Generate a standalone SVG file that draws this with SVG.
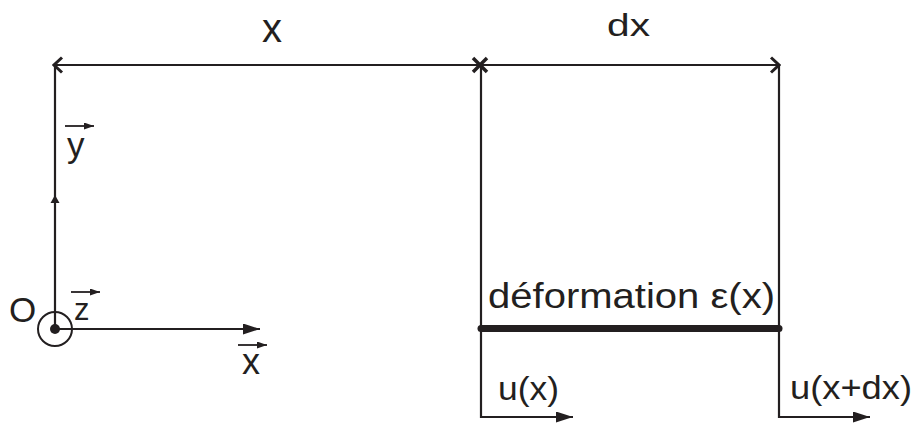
<svg xmlns="http://www.w3.org/2000/svg" width="916" height="428" viewBox="0 0 916 428">
<style>
.ln{stroke:#231f20;stroke-width:2.2;fill:none}
.t{font-family:"Liberation Sans","Open Sans",sans-serif;fill:#231f20}
.v{stroke:#231f20;stroke-width:1.8;fill:none}
</style>
<defs>
<marker id="fa" viewBox="0 0 17 11" refX="17" refY="5.5" markerWidth="17" markerHeight="11" markerUnits="userSpaceOnUse" orient="auto"><path d="M0,0 L17,5.5 L0,11 Z" fill="#231f20"/></marker>
<marker id="sa" viewBox="0 0 10 7" refX="10" refY="3.5" markerWidth="10" markerHeight="7" markerUnits="userSpaceOnUse" orient="auto"><path d="M0,0 L10,3.5 L0,7 Z" fill="#231f20"/></marker>
<marker id="ch" viewBox="0 0 12 18" refX="11" refY="9" markerWidth="12" markerHeight="18" markerUnits="userSpaceOnUse" orient="auto"><path d="M2,1.5 L10,9 L2,16.5" fill="none" stroke="#231f20" stroke-width="3"/></marker>
</defs>
<g id="connectors">
<line class="ln" x1="480" y1="65" x2="53" y2="65" marker-end="url(#ch)"/>
<line class="ln" x1="480" y1="65" x2="780" y2="65" marker-end="url(#ch)"/>
<path d="M473,58 L487,72 M487,58 L473,72" stroke="#231f20" stroke-width="3.5" fill="none"/>
<line class="ln" x1="55" y1="329" x2="55" y2="65"/>
<path d="M55,195 L50.5,203 L59.5,203 Z" fill="#231f20"/>
<line class="ln" x1="55" y1="329" x2="260" y2="329" marker-end="url(#fa)"/>
<line class="ln" x1="481" y1="65" x2="481" y2="418"/>
<line class="ln" x1="779" y1="65" x2="779" y2="418"/>
<line class="ln" x1="480" y1="417" x2="573" y2="417" marker-end="url(#fa)"/>
<line class="ln" x1="778" y1="417" x2="870" y2="417" marker-end="url(#fa)"/>
</g>
<g id="origin">
<circle cx="55" cy="329" r="17" fill="none" stroke="#231f20" stroke-width="2"/>
<circle cx="55" cy="329" r="5" fill="#231f20"/>
<text class="t" x="9" y="322" font-size="35">O</text>
<line class="v" x1="71" y1="292" x2="100" y2="292" marker-end="url(#sa)"/>
<text class="t" x="74" y="320" font-size="31">z</text>
</g>
<g id="axis-y">
<line class="v" x1="65" y1="126" x2="94" y2="126" marker-end="url(#sa)"/>
<text class="t" x="67" y="157" font-size="35">y</text>
</g>
<g id="axis-x">
<line class="v" x1="238" y1="345" x2="267" y2="345" marker-end="url(#sa)"/>
<text class="t" x="242" y="374" font-size="36">x</text>
</g>
<g id="dim-x"><text class="t" x="262" y="42" font-size="40">x</text></g>
<g id="dim-dx"><text class="t" x="607" y="36" font-size="31" textLength="43" lengthAdjust="spacingAndGlyphs">dx</text></g>
<g id="segment">
<line x1="481" y1="328.5" x2="779" y2="328.5" stroke="#231f20" stroke-width="7" stroke-linecap="round"/>
<text class="t" x="488" y="308" font-size="35" textLength="287" lengthAdjust="spacingAndGlyphs">déformation ε(x)</text>
</g>
<g id="u-x"><text class="t" x="498" y="400" font-size="33" textLength="61" lengthAdjust="spacingAndGlyphs">u(x)</text></g>
<g id="u-xdx"><text class="t" x="790" y="399" font-size="33" textLength="122" lengthAdjust="spacingAndGlyphs">u(x+dx)</text></g>
</svg>
